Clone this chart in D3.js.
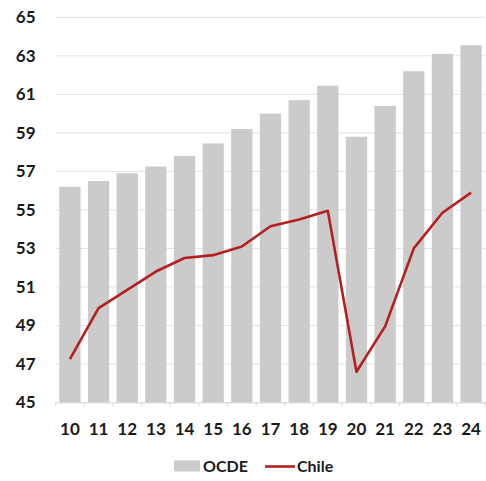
<!DOCTYPE html>
<html>
<head>
<meta charset="utf-8">
<script src="https://cdn.jsdelivr.net/npm/d3@7/dist/d3.min.js"></script>
<style>
  html, body { margin: 0; padding: 0; background: #fff; }
  svg { display: block; }
  text { font-family: Lato, "Open Sans", sans-serif; font-weight: 700; fill: #1a1a1a; }
</style>
</head>
<body>
<svg id="chart" width="486" height="481"></svg>
<script>
// Years (two-digit) along the x axis
const years = ["10","11","12","13","14","15","16","17","18","19","20","21","22","23","24"];
// OCDE average (bars)
const ocde = [56.2, 56.5, 56.9, 57.25, 57.8, 58.45, 59.2, 60.0, 60.7, 61.45, 58.8, 60.4, 62.2, 63.1, 63.55];
// Chile (line)
const chile = [47.25, 49.9, 50.85, 51.8, 52.5, 52.65, 53.1, 54.15, 54.5, 54.95, 46.6, 48.95, 53.0, 54.85, 55.9];
// Y axis ticks
const yTicks = [45, 47, 49, 51, 53, 55, 57, 59, 61, 63, 65];
const seriesNames = ["OCDE", "Chile"];

const svg = d3.select("#chart");
const margin = { left: 55.6, right: 0.6, top: 17.3, bottom: 78.5 };
const W = 486, H = 481;

const x = d3.scaleBand()
  .domain(years)
  .range([margin.left, W - margin.right])
  .paddingInner(0.257)
  .paddingOuter(0.128);

const y = d3.scaleLinear()
  .domain([45, 65])
  .range([H - margin.bottom, margin.top]);

// horizontal gridlines
svg.append("g")
  .selectAll("line")
  .data(yTicks)
  .join("line")
  .attr("x1", margin.left)
  .attr("x2", W - margin.right)
  .attr("y1", d => y(d))
  .attr("y2", d => y(d))
  .attr("stroke", "#e3e3e3")
  .attr("stroke-width", 1);

// y axis labels
const yAxis = svg.append("g")
  .attr("transform", `translate(${margin.left},0)`)
  .call(d3.axisLeft(y).tickValues(yTicks).tickSize(0).tickPadding(20).tickFormat(d3.format("d")));
yAxis.select(".domain").remove();
yAxis.selectAll("text").style("font-size", "17px").attr("fill", "#1a1a1a");

// bars
svg.append("g")
  .selectAll("rect")
  .data(years.map((yr, i) => ({ yr, v: ocde[i] })))
  .join("rect")
  .attr("x", d => x(d.yr))
  .attr("width", x.bandwidth())
  .attr("y", d => y(d.v))
  .attr("height", d => y(45) - y(d.v))
  .attr("fill", "#cbcbcb");

// x axis
const xAxis = svg.append("g")
  .attr("transform", `translate(0,${y(45)})`)
  .call(d3.axisBottom(x).tickSize(0).tickPadding(20));
xAxis.select(".domain").attr("stroke", "#dcdcdc");
xAxis.selectAll("text").style("font-size", "17px").attr("fill", "#1a1a1a");

// small tick marks between categories
const step = x.step();
svg.append("g")
  .selectAll("line")
  .data(d3.range(years.length + 1))
  .join("line")
  .attr("x1", i => x.range()[0] + i * step)
  .attr("x2", i => x.range()[0] + i * step)
  .attr("y1", y(45))
  .attr("y2", y(45) + 4)
  .attr("stroke", "#dcdcdc");

// Chile line
const line = d3.line()
  .x((d, i) => x(years[i]) + x.bandwidth() / 2)
  .y(d => y(d));
svg.append("path")
  .datum(chile)
  .attr("d", line)
  .attr("fill", "none")
  .attr("stroke", "#b51f1f")
  .attr("stroke-width", 2.6)
  .attr("stroke-linejoin", "round");

// legend
const lg = svg.append("g").attr("transform", "translate(174,466)");
lg.append("rect").attr("x", 0).attr("y", -5.5).attr("width", 26).attr("height", 11).attr("fill", "#cbcbcb");
lg.append("text").attr("x", 29).attr("y", 6).style("font-size", "16px").text(seriesNames[0]);
lg.append("line").attr("x1", 91).attr("x2", 121).attr("y1", 0.5).attr("y2", 0.5)
  .attr("stroke", "#b51f1f").attr("stroke-width", 2.6);
lg.append("text").attr("x", 123).attr("y", 6).style("font-size", "16px").text(seriesNames[1]);
</script>
</body>
</html>
